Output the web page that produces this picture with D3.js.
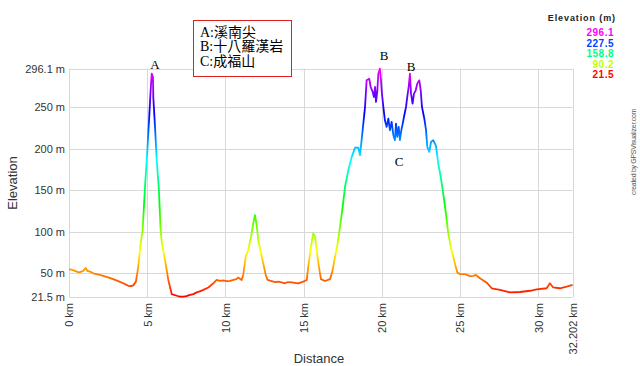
<!DOCTYPE html>
<html><head><meta charset="utf-8">
<script src="https://cdn.jsdelivr.net/npm/d3@7"></script>
<style>
html,body{margin:0;padding:0;background:#fff;}
svg{display:block;}
</style></head>
<body>
<svg id="chart" width="640" height="366"></svg>
<script>
const distKm = [
  0.00,0.20,0.38,0.64,0.80,0.91,1.00,1.07,1.17,1.35,
  1.55,1.90,2.19,2.50,2.83,3.15,3.47,3.79,3.95,4.11,
  4.28,4.43,4.58,4.71,4.86,5.01,5.13,5.22,5.29,5.37,
  5.39,5.50,5.61,5.75,5.85,5.94,6.14,6.35,6.57,6.89,
  7.10,7.31,7.50,7.74,7.95,8.16,8.40,8.59,8.91,9.23,
  9.44,9.65,9.85,10.08,10.30,10.51,10.70,10.82,11.04,11.14,
  11.30,11.46,11.64,11.78,11.89,12.00,12.10,12.26,12.42,12.58,
  12.70,12.96,13.20,13.38,13.60,13.81,14.00,14.24,14.45,14.66,
  14.98,15.20,15.30,15.47,15.62,15.73,15.84,15.98,16.11,16.37,
  16.69,16.84,17.01,17.18,17.33,17.50,17.65,17.86,18.08,18.29,
  18.50,18.61,18.71,18.82,18.93,19.03,19.20,19.29,19.42,19.50,
  19.57,19.63,19.71,19.78,19.88,19.95,20.01,20.10,20.20,20.31,
  20.42,20.52,20.63,20.74,20.84,20.91,20.99,21.08,21.16,21.25,
  21.34,21.42,21.55,21.63,21.72,21.80,21.87,21.97,22.06,22.17,
  22.27,22.40,22.49,22.57,22.72,22.83,22.91,23.04,23.15,23.29,
  23.47,23.61,23.77,23.93,24.10,24.25,24.41,24.57,24.70,24.83,
  25.00,25.32,25.64,25.85,26.02,26.28,26.71,27.03,27.56,28.20,
  28.84,29.48,29.90,30.54,30.75,30.96,31.39,31.82,32.202
];
const elevM = [
  55,54,53,51,52,53,55,56.5,53,52,
  50,48.5,47,45,43,40.5,38,35,34.5,35.5,
  40,58,86,102,154,198,238,270,290,286,
  262,226,186,150,104,86,66,42,25,23,
  22,22,22.5,24,25,27,28.5,30,33,38,
  42,41,41.5,40.5,41,42,43,45,42,48,
  70,78,94,110,120,108,90,76,62,48,
  42,40.7,39.5,40,39,38,39.5,39,38.5,38,
  40,42,58,82,98,94,78,58,43,40.7,
  43,52,70,86,106,130,154,174,190,201,
  201,192,210,230,250,282,284,274,268,262,
  274,256,268,290,296.1,282,266,250,234,226,
  236,222,232,216,210,230,214,226,210,222,
  230,238,250,262,274,290,266,254,266,270,
  278,282,270,250,236,222,202,196,208,210,
  203,182,166,146,122,98,82,70,60,51,
  49,49,46.7,47,48,44,38.7,32,30,27,
  27.5,29,30.7,32,38,33,32,34,36
];
const yTickValues = [21.5, 50, 100, 150, 200, 250, 296.1];
const xTickValues = [0, 5, 10, 15, 20, 25, 30, 32.202];
const legendValues = [296.1, 227.5, 158.8, 90.2, 21.5];
const annotLabels = ["A", "B", "B", "C"];
const annotKm = [5.50, 20.14, 21.87, 21.10];
const annotElev = [301.5, 312.5, 299.2, 185];
const boxLines = ["A:溪南尖", "B:十八羅漢岩", "C:成福山"];

const svg = d3.select("#chart");
const x = d3.scaleLinear().domain([0, 32.202]).range([69, 572.6]);
const y = d3.scaleLinear().domain([21.5, 296.1]).range([297, 68.6]);
const hue = d3.scaleLinear().domain([21.5, 296.1]).range([0, 300]);
const colorOf = v => d3.hsl(hue(v), 1, 0.5).formatHex();

const sans = "'Liberation Sans', Arial, sans-serif";

// gradient
const defs = svg.append("defs");
const grad = defs.append("linearGradient").attr("id", "elevGrad")
  .attr("gradientUnits", "userSpaceOnUse")
  .attr("x1", 0).attr("x2", 0).attr("y1", y(21.5)).attr("y2", y(296.1));
d3.range(0, 1.0001, 0.05).forEach(t => {
  const v = 21.5 + t * (296.1 - 21.5);
  grad.append("stop").attr("offset", t).attr("stop-color", colorOf(v));
});

// grid
const g = svg.append("g");
g.selectAll("line.hg").data(yTickValues).join("line")
  .attr("x1", x(0)).attr("x2", x(32.202))
  .attr("y1", d => Math.round(y(d)) + 0.5).attr("y2", d => Math.round(y(d)) + 0.5)
  .attr("stroke", "#d8d8d8").attr("stroke-width", 1);
g.selectAll("line.vg").data(xTickValues).join("line")
  .attr("y1", y(296.1)).attr("y2", y(21.5))
  .attr("x1", d => Math.round(x(d)) + 0.5).attr("x2", d => Math.round(x(d)) + 0.5)
  .attr("stroke", "#d8d8d8").attr("stroke-width", 1);

// y axis labels
const yAxis = d3.axisLeft(y).tickValues(yTickValues).tickSize(0).tickPadding(4)
  .tickFormat(d => d + " m");
svg.append("g").attr("transform", `translate(${x(0)},0)`).call(yAxis)
  .call(s => s.select(".domain").remove())
  .selectAll("text").attr("font-family", sans).attr("font-size", 11).attr("fill", "#333");

// x axis labels
const xAxis = d3.axisBottom(x).tickValues(xTickValues).tickSize(0).tickFormat(d => d + " km");
svg.append("g").attr("transform", `translate(0,${y(21.5)})`).call(xAxis)
  .call(s => s.select(".domain").remove())
  .selectAll("text")
  .attr("font-family", sans).attr("font-size", 11).attr("fill", "#333")
  .attr("text-anchor", "end")
  .attr("transform", "rotate(-90)")
  .attr("x", -6).attr("y", 0).attr("dy", "0.35em");

// axis titles
svg.append("text").attr("transform", "translate(17,183) rotate(-90)")
  .attr("text-anchor", "middle").attr("font-family", sans).attr("font-size", 13)
  .attr("fill", "#333").text("Elevation");
svg.append("text").attr("x", 319).attr("y", 363)
  .attr("text-anchor", "middle").attr("font-family", sans).attr("font-size", 13)
  .attr("fill", "#333").text("Distance");

// profile line
const pts = distKm.map((d, i) => [d, elevM[i]]);
const line = d3.line().x(d => x(d[0])).y(d => y(d[1]));
svg.append("path").datum(pts).attr("d", line)
  .attr("fill", "none").attr("stroke", "url(#elevGrad)")
  .attr("stroke-width", 1.8).attr("stroke-linejoin", "round");

// annotations
svg.selectAll("text.annot").data(annotLabels).join("text")
  .attr("class", "annot")
  .attr("x", (d, i) => x(annotKm[i])).attr("y", (d, i) => y(annotElev[i]))
  .attr("dy", "0.35em").attr("text-anchor", "middle")
  .attr("font-family", "'Liberation Serif', 'DejaVu Serif', serif")
  .attr("font-size", 13).attr("fill", "#000").text(d => d);

// text box
svg.append("rect").attr("x", 193.5).attr("y", 20.5).attr("width", 98).attr("height", 56)
  .attr("fill", "#fff").attr("stroke", "#e02020").attr("stroke-width", 1);
svg.selectAll("text.box").data(boxLines).join("text")
  .attr("class", "box")
  .attr("x", 200).attr("y", (d, i) => 36.5 + i * 14.5)
  .attr("font-family", "'Liberation Serif', 'Noto Sans CJK TC', serif")
  .attr("font-size", 14).attr("fill", "#000").text(d => d);

// legend
svg.append("text").attr("x", 616).attr("y", 21).attr("text-anchor", "end")
  .attr("font-family", sans).attr("font-size", 9).attr("font-weight", "bold")
  .attr("letter-spacing", 0.9).attr("fill", "#222").text("Elevation (m)");
svg.selectAll("text.leg").data(legendValues).join("text")
  .attr("class", "leg")
  .attr("x", 614).attr("y", (d, i) => 36 + i * 10.5)
  .attr("text-anchor", "end").attr("font-family", sans).attr("font-size", 10)
  .attr("font-weight", "bold").attr("letter-spacing", 0.5)
  .attr("fill", d => colorOf(d)).text(d => d);

// credit
svg.append("text").attr("transform", "translate(635.5,152) rotate(-90)")
  .attr("text-anchor", "middle").attr("font-family", sans).attr("font-size", 7)
  .attr("letter-spacing", -0.3)
  .attr("fill", "#555").text("created by GPSVisualizer.com");
</script>
</body></html>
